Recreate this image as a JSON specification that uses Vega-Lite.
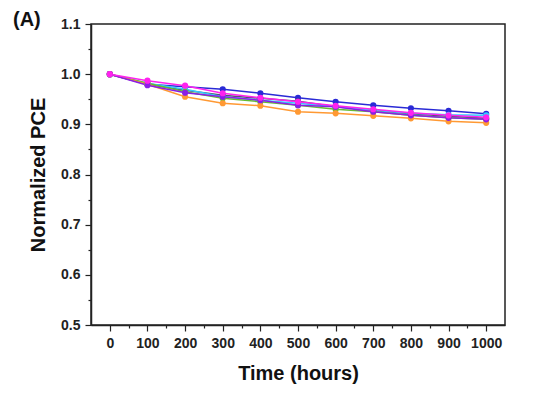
{
  "$schema": "https://vega.github.io/schema/vega-lite/v6.json",
  "autosize": {"type": "none"},
  "width": 414,
  "height": 301,
  "padding": {"left": 91, "top": 24, "right": 45, "bottom": 68},
  "background": "white",
  "title": {"text": "(A)", "anchor": "start", "frame": "group", "dx": -78, "offset": -23, "fontSize": 20, "fontWeight": "bold", "font": "Liberation Sans", "baseline": "middle", "color": "#111"},
  "config": {
    "view": {"stroke": "#222", "strokeWidth": 1.5},
    "axis": {"labelFont": "Liberation Sans", "titleFont": "Liberation Sans", "labelFontWeight": "bold", "titleFontWeight": "bold", "labelColor": "#222", "titleColor": "#111", "domainColor": "#222", "tickColor": "#222", "domainWidth": 1.5, "tickWidth": 1.2, "grid": false}
  },
  "datasets": {
    "d": [
      {"s": "blue", "t": 0, "v": 1.0}, {"s": "blue", "t": 100, "v": 0.980}, {"s": "blue", "t": 200, "v": 0.975}, {"s": "blue", "t": 300, "v": 0.970}, {"s": "blue", "t": 400, "v": 0.962}, {"s": "blue", "t": 500, "v": 0.953}, {"s": "blue", "t": 600, "v": 0.945}, {"s": "blue", "t": 700, "v": 0.938}, {"s": "blue", "t": 800, "v": 0.932}, {"s": "blue", "t": 900, "v": 0.927}, {"s": "blue", "t": 1000, "v": 0.921},
      {"s": "gray", "t": 0, "v": 1.0}, {"s": "gray", "t": 100, "v": 0.980}, {"s": "gray", "t": 200, "v": 0.968}, {"s": "gray", "t": 300, "v": 0.958}, {"s": "gray", "t": 400, "v": 0.952}, {"s": "gray", "t": 500, "v": 0.946}, {"s": "gray", "t": 600, "v": 0.935}, {"s": "gray", "t": 700, "v": 0.928}, {"s": "gray", "t": 800, "v": 0.921}, {"s": "gray", "t": 900, "v": 0.916}, {"s": "gray", "t": 1000, "v": 0.912},
      {"s": "cyan", "t": 0, "v": 1.0}, {"s": "cyan", "t": 100, "v": 0.982}, {"s": "cyan", "t": 200, "v": 0.970}, {"s": "cyan", "t": 300, "v": 0.955}, {"s": "cyan", "t": 400, "v": 0.948}, {"s": "cyan", "t": 500, "v": 0.942}, {"s": "cyan", "t": 600, "v": 0.935}, {"s": "cyan", "t": 700, "v": 0.928}, {"s": "cyan", "t": 800, "v": 0.922}, {"s": "cyan", "t": 900, "v": 0.919}, {"s": "cyan", "t": 1000, "v": 0.918},
      {"s": "green", "t": 0, "v": 1.0}, {"s": "green", "t": 100, "v": 0.982}, {"s": "green", "t": 200, "v": 0.965}, {"s": "green", "t": 300, "v": 0.952}, {"s": "green", "t": 400, "v": 0.945}, {"s": "green", "t": 500, "v": 0.938}, {"s": "green", "t": 600, "v": 0.930}, {"s": "green", "t": 700, "v": 0.925}, {"s": "green", "t": 800, "v": 0.918}, {"s": "green", "t": 900, "v": 0.913}, {"s": "green", "t": 1000, "v": 0.910},
      {"s": "orange", "t": 0, "v": 1.0}, {"s": "orange", "t": 100, "v": 0.980}, {"s": "orange", "t": 200, "v": 0.955}, {"s": "orange", "t": 300, "v": 0.942}, {"s": "orange", "t": 400, "v": 0.937}, {"s": "orange", "t": 500, "v": 0.925}, {"s": "orange", "t": 600, "v": 0.922}, {"s": "orange", "t": 700, "v": 0.917}, {"s": "orange", "t": 800, "v": 0.912}, {"s": "orange", "t": 900, "v": 0.906}, {"s": "orange", "t": 1000, "v": 0.903},
      {"s": "purple", "t": 0, "v": 1.0}, {"s": "purple", "t": 100, "v": 0.978}, {"s": "purple", "t": 200, "v": 0.963}, {"s": "purple", "t": 300, "v": 0.955}, {"s": "purple", "t": 400, "v": 0.948}, {"s": "purple", "t": 500, "v": 0.938}, {"s": "purple", "t": 600, "v": 0.935}, {"s": "purple", "t": 700, "v": 0.925}, {"s": "purple", "t": 800, "v": 0.918}, {"s": "purple", "t": 900, "v": 0.913}, {"s": "purple", "t": 1000, "v": 0.910},
      {"s": "magenta", "t": 0, "v": 1.0}, {"s": "magenta", "t": 100, "v": 0.987}, {"s": "magenta", "t": 200, "v": 0.977}, {"s": "magenta", "t": 300, "v": 0.962}, {"s": "magenta", "t": 400, "v": 0.953}, {"s": "magenta", "t": 500, "v": 0.945}, {"s": "magenta", "t": 600, "v": 0.937}, {"s": "magenta", "t": 700, "v": 0.930}, {"s": "magenta", "t": 800, "v": 0.923}, {"s": "magenta", "t": 900, "v": 0.918}, {"s": "magenta", "t": 1000, "v": 0.914}
    ]
  },
  "data": {"name": "d"},
  "encoding": {
    "x": {"field": "t", "type": "quantitative", "scale": {"domain": [-50, 1050], "nice": false, "zero": false},
      "axis": {"title": "Time (hours)", "titleFontSize": 20, "titlePadding": 13, "labelFontSize": 14, "labelPadding": 5, "format": "d",
        "values": [0,50,100,150,200,250,300,350,400,450,500,550,600,650,700,750,800,850,900,950,1000],
        "labelExpr": "datum.value % 100 === 0 ? datum.label : ''",
        "tickSize": {"condition": {"test": "datum.value % 100 === 0", "value": 6}, "value": 3}}},
    "y": {"field": "v", "type": "quantitative", "scale": {"domain": [0.5, 1.1], "nice": false, "zero": false},
      "axis": {"title": "Normalized PCE", "titleFontSize": 20, "titlePadding": 12, "labelFontSize": 14, "labelPadding": 5, "format": ".1f",
        "values": [0.5,0.55,0.6,0.65,0.7,0.75,0.8,0.85,0.9,0.95,1.0,1.05,1.1],
        "labelExpr": "round(datum.value*100) % 10 === 0 ? datum.label : ''",
        "tickSize": {"condition": {"test": "round(datum.value*100) % 10 === 0", "value": 6}, "value": 3}}},
    "color": {"field": "s", "type": "nominal", "legend": null,
      "scale": {"domain": ["blue", "gray", "cyan", "green", "orange", "purple", "magenta"],
        "range": ["#2a2ad6", "#555570", "#33ccff", "#66bb33", "#ff9933", "#8a1ee6", "#ff22ee"]}}
  },
  "layer": [
    {"mark": {"type": "line", "strokeWidth": 1.5}},
    {"mark": {"type": "point", "filled": true, "size": 38, "opacity": 1}}
  ]
}
